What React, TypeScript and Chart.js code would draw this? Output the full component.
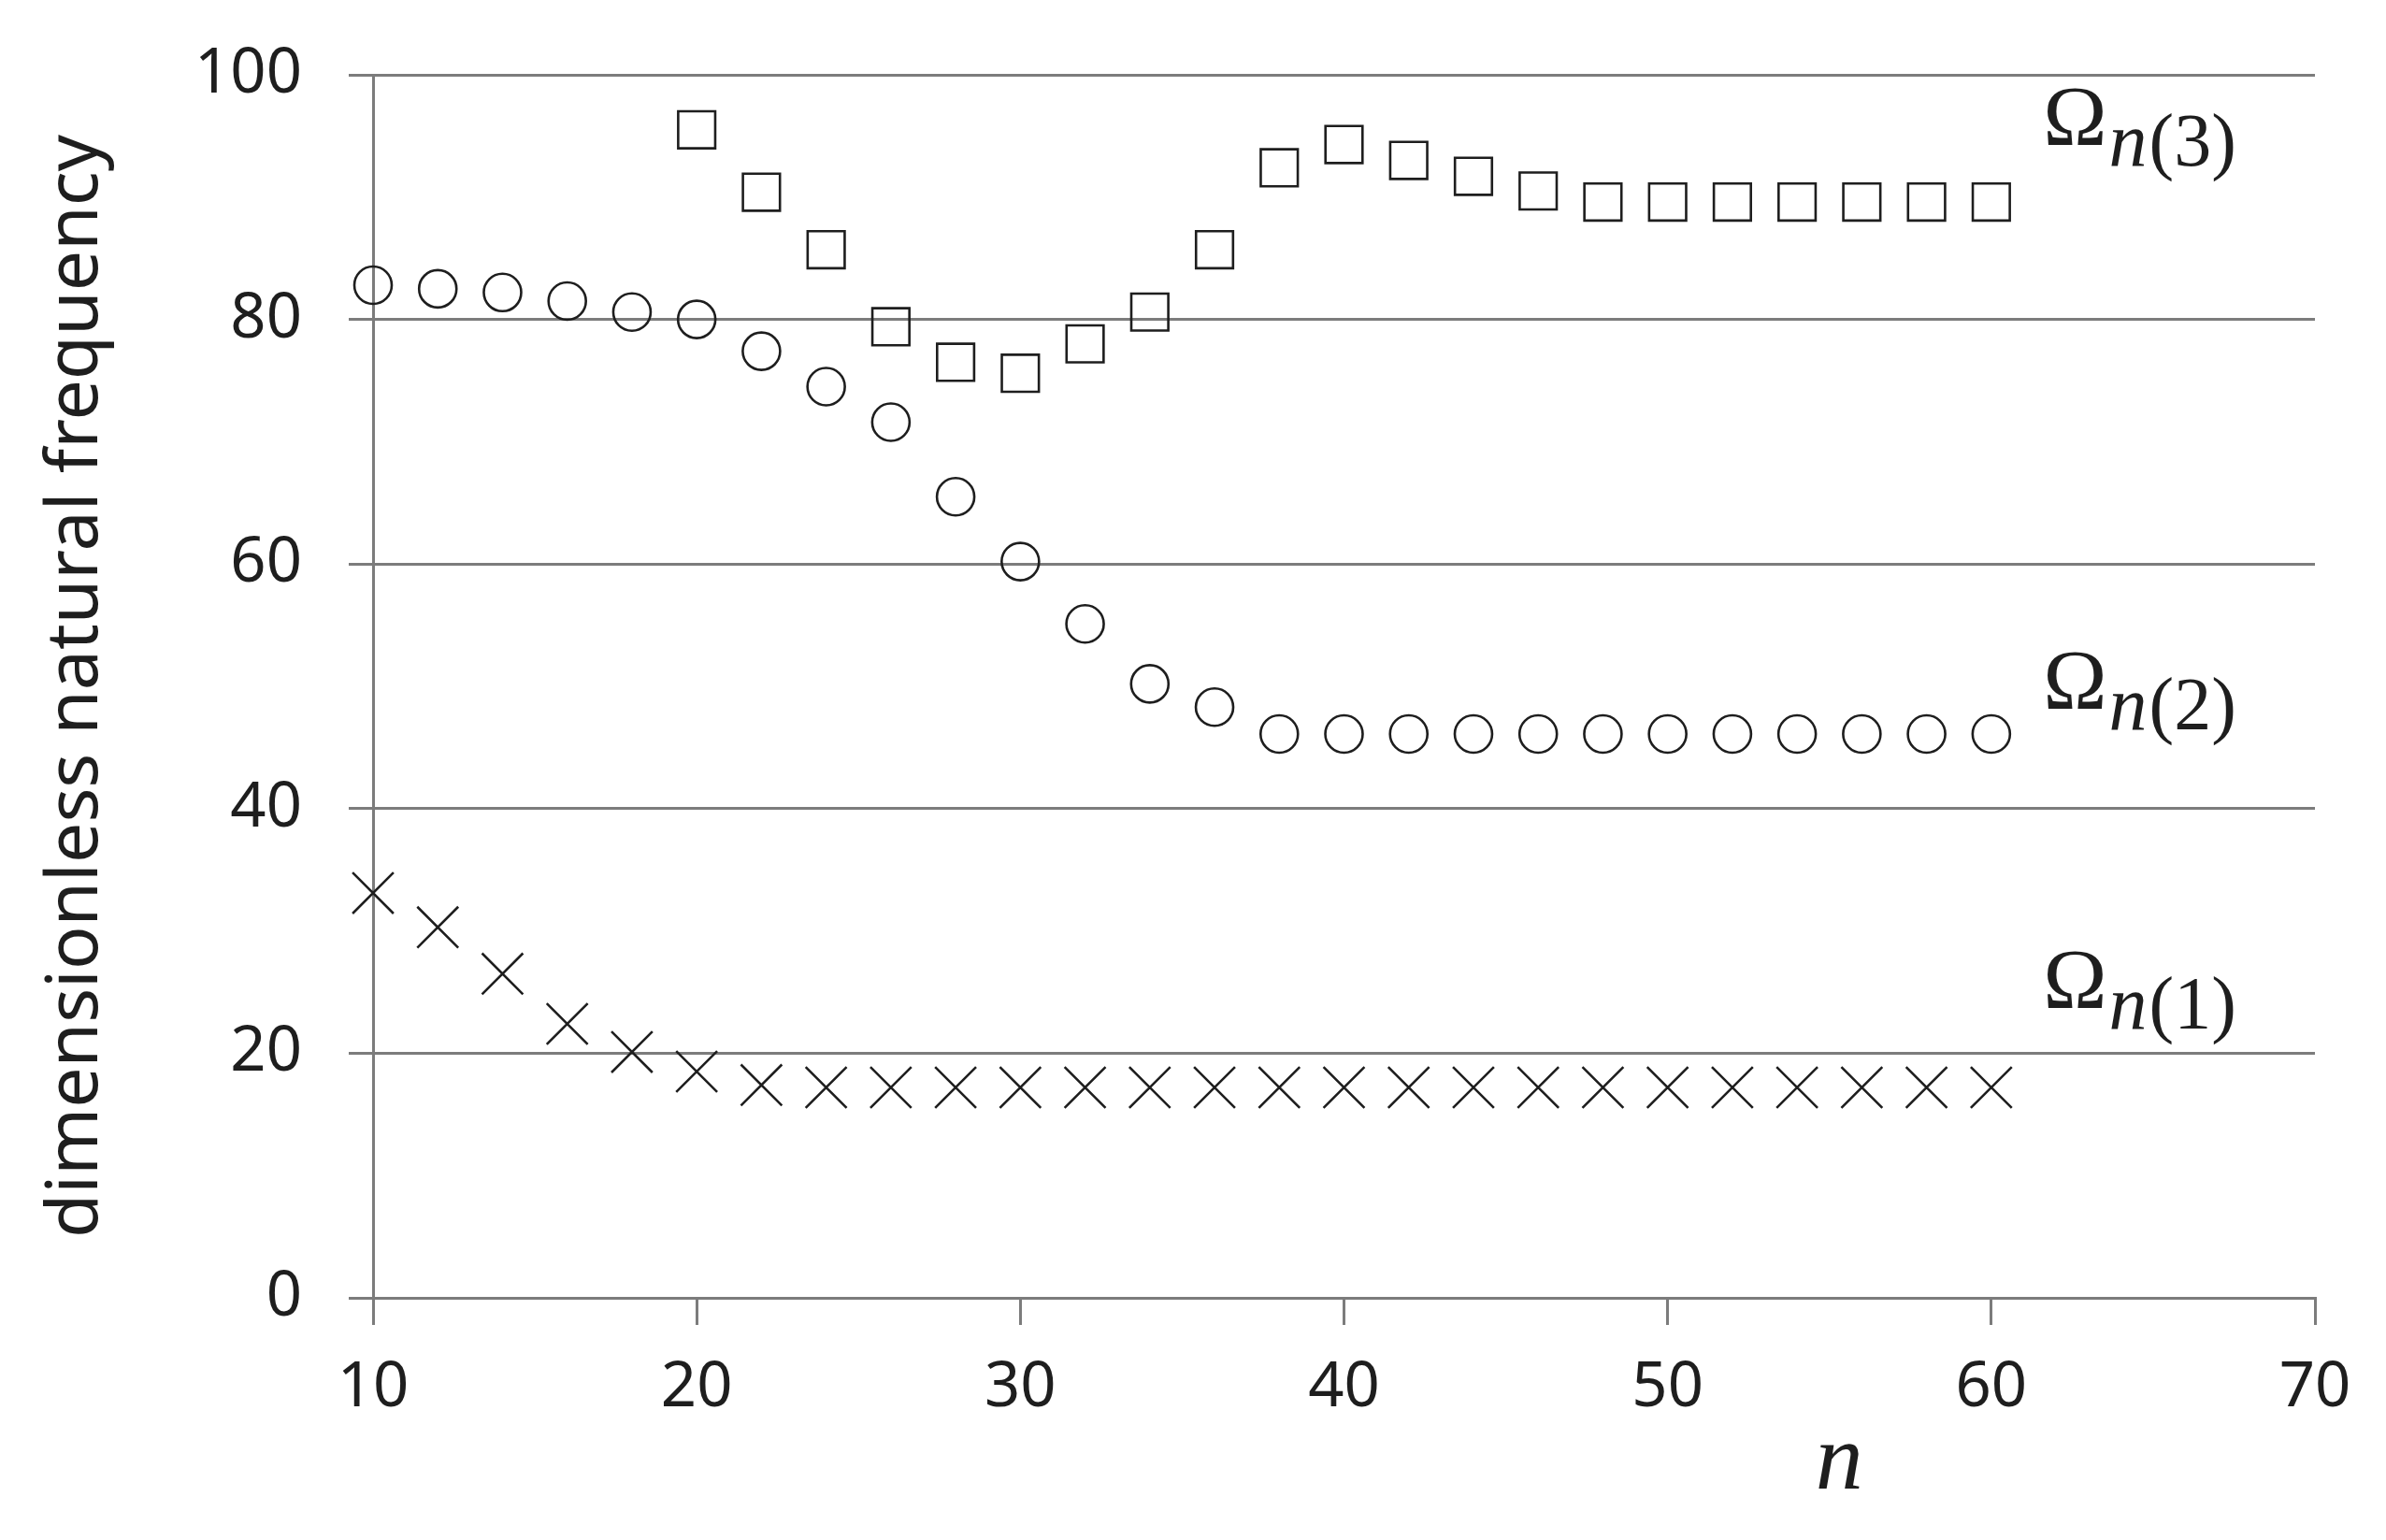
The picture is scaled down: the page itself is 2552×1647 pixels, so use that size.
import React, { useEffect, useRef } from "react";
import { Chart, registerables } from "chart.js";

Chart.register(...registerables);

// ---- data ----
const N_ALL = [10, 12, 14, 16, 18, 20, 22, 24, 26, 28, 30, 32, 34, 36, 38, 40, 42, 44, 46, 48, 50, 52, 54, 56, 58, 60];
const N_MODE3 = [20, 22, 24, 26, 28, 30, 32, 34, 36, 38, 40, 42, 44, 46, 48, 50, 52, 54, 56, 58, 60];

const OMEGA_1 = [33.1, 30.3, 26.5, 22.4, 20.1, 18.5, 17.4, 17.2, 17.2, 17.2, 17.2, 17.2, 17.2, 17.2, 17.2, 17.2, 17.2, 17.2, 17.2, 17.2, 17.2, 17.2, 17.2, 17.2, 17.2, 17.2];
const OMEGA_2 = [82.8, 82.5, 82.2, 81.5, 80.6, 80.0, 77.4, 74.5, 71.6, 65.5, 60.2, 55.1, 50.2, 48.3, 46.1, 46.1, 46.1, 46.1, 46.1, 46.1, 46.1, 46.1, 46.1, 46.1, 46.1, 46.1];
const OMEGA_3 = [95.5, 90.4, 85.7, 79.4, 76.5, 75.6, 78.0, 80.6, 85.7, 92.4, 94.3, 93.0, 91.7, 90.5, 89.6, 89.6, 89.6, 89.6, 89.6, 89.6, 89.6];

const MODE_NAMES = ["1", "2", "3"];
const Y_TICKS = [0, 20, 40, 60, 80, 100];
const X_TICKS = [10, 20, 30, 40, 50, 60, 70];

const Y_TITLE = "dimensionless natural frequency";
const X_TITLE = "n";

const toPoints = (xs: number[], ys: number[]) => xs.map((x, i) => ({ x, y: ys[i] }));

const GRID = "#7c7c7c";
const INK = "#1e1e1e";
const SANS = '"Noto Sans", "DejaVu Sans", sans-serif';
const SERIF = '"Liberation Serif", "DejaVu Serif", serif';

// annotation anchors (data units)
const LABEL_X = 61.6;
const LABEL_Y = [23.7, 48.2, 94.3];
const N_TITLE_X = 55.3;

const labelPlugin = {
  id: "modeLabels",
  afterDraw(chart: any) {
    const { ctx, scales, chartArea } = chart;
    const xs = scales.x;
    const ys = scales.y;
    ctx.save();
    ctx.fillStyle = INK;
    ctx.textBaseline = "alphabetic";
    ctx.textAlign = "left";
    MODE_NAMES.forEach((m, i) => {
      const px = xs.getPixelForValue(LABEL_X);
      const py = ys.getPixelForValue(LABEL_Y[i]);
      ctx.font = `92px ${SERIF}`;
      ctx.fillText("Ω", px, py);
      let cx = px + ctx.measureText("Ω").width + 2;
      ctx.font = `italic 82px ${SERIF}`;
      ctx.fillText("n", cx, py + 22);
      cx += ctx.measureText("n").width + 2;
      ctx.font = `80px ${SERIF}`;
      ctx.fillText(`(${m})`, cx, py + 22);
    });
    // x axis title
    ctx.font = `italic 102px ${SERIF}`;
    ctx.textAlign = "center";
    ctx.fillText(X_TITLE, xs.getPixelForValue(N_TITLE_X), chartArea.bottom + 204);
    ctx.restore();
  },
};

export default function App() {
  const ref = useRef<HTMLCanvasElement | null>(null);

  useEffect(() => {
    if (!ref.current) return;
    const common = {
      showLine: false,
      clip: false,
      borderColor: INK,
      backgroundColor: "rgba(0,0,0,0)",
      pointBorderColor: INK,
      pointBackgroundColor: "rgba(0,0,0,0)",
      pointBorderWidth: 2.6,
    };
    const chart = new Chart(ref.current, {
      type: "scatter",
      data: {
        datasets: [
          { ...common, label: "Ωn(1)", data: toPoints(N_ALL, OMEGA_1), pointStyle: "crossRot", pointRadius: 31 },
          { ...common, label: "Ωn(2)", data: toPoints(N_ALL, OMEGA_2), pointStyle: "circle", pointRadius: 20 },
          { ...common, label: "Ωn(3)", data: toPoints(N_MODE3, OMEGA_3), pointStyle: "rect", pointRadius: 28 },
        ],
      },
      options: {
        responsive: false,
        animation: false,
        devicePixelRatio: 1,
        layout: { padding: { top: 80, right: 76, left: 0, bottom: 0 } },
        plugins: { legend: { display: false }, tooltip: { enabled: false } },
        scales: {
          x: {
            type: "linear",
            min: 10,
            max: 70,
            afterBuildTicks: (s: any) => {
              s.ticks = X_TICKS.map((v) => ({ value: v }));
            },
            afterFit: (s: any) => {
              s.height = 259;
            },
            grid: { drawOnChartArea: false, drawTicks: true, tickLength: 29, color: GRID, lineWidth: 3 },
            border: { display: true, color: GRID, width: 3 },
            ticks: { color: INK, font: { family: SANS, size: 67 }, padding: 28 },
            title: { display: false },
          },
          y: {
            type: "linear",
            min: 0,
            max: 100,
            afterBuildTicks: (s: any) => {
              s.ticks = Y_TICKS.map((v) => ({ value: v }));
            },
            afterFit: (s: any) => {
              s.width = 399;
              s.paddingTop = 0;
              s.paddingBottom = 0;
            },
            grid: { drawOnChartArea: true, drawTicks: true, tickLength: 26, color: GRID, lineWidth: 3 },
            border: { display: true, color: GRID, width: 3 },
            ticks: { color: INK, font: { family: SANS, size: 67 }, padding: 50 },
            title: {
              display: true,
              text: Y_TITLE,
              color: INK,
              font: { family: SANS, size: 77 },
              padding: { top: 36, bottom: 0 },
            },
          },
        },
      },
      plugins: [labelPlugin],
    } as any);
    return () => chart.destroy();
  }, []);

  return (
    <div style={{ position: "fixed", left: 0, top: 0, width: 2552, height: 1647, background: "#fff" }}>
      <canvas ref={ref} width={2552} height={1647} style={{ width: 2552, height: 1647 }} />
    </div>
  );
}
